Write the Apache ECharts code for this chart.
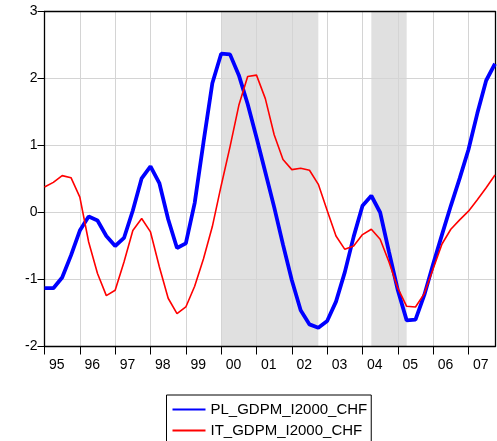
<!DOCTYPE html>
<html>
<head>
<meta charset="utf-8">
<script src="https://cdn.jsdelivr.net/npm/echarts@6/dist/echarts.min.js"></script>
<style>
  html, body { margin: 0; padding: 0; background: #ffffff; }
  #chart { width: 497px; height: 441px; }
</style>
</head>
<body>
<div id="chart"></div>
<script>
// Quarterly observations, 1995Q1 .. 2007Q4
const quarters = [
  '1995Q1','1995Q2','1995Q3','1995Q4','1996Q1','1996Q2','1996Q3','1996Q4',
  '1997Q1','1997Q2','1997Q3','1997Q4','1998Q1','1998Q2','1998Q3','1998Q4',
  '1999Q1','1999Q2','1999Q3','1999Q4','2000Q1','2000Q2','2000Q3','2000Q4',
  '2001Q1','2001Q2','2001Q3','2001Q4','2002Q1','2002Q2','2002Q3','2002Q4',
  '2003Q1','2003Q2','2003Q3','2003Q4','2004Q1','2004Q2','2004Q3','2004Q4',
  '2005Q1','2005Q2','2005Q3','2005Q4','2006Q1','2006Q2','2006Q3','2006Q4',
  '2007Q1','2007Q2','2007Q3','2007Q4'
];

const plValues = [
  -1.13, -1.13, -0.97, -0.64, -0.27, -0.06, -0.12, -0.35,
  -0.50, -0.38,  0.03,  0.51,  0.69,  0.44, -0.10, -0.53,
  -0.46,  0.14,  1.05,  1.93,  2.37,  2.36,  2.05,  1.62,
   1.12,  0.60,  0.08, -0.48, -1.01, -1.46, -1.67, -1.72,
  -1.62, -1.33, -0.89, -0.36,  0.10,  0.25,  0.00, -0.59,
  -1.16, -1.61, -1.60, -1.23, -0.77, -0.33,  0.10,  0.51,
   0.94,  1.48,  1.97,  2.22
];

const itValues = [
   0.38,  0.45,  0.55,  0.52,  0.23, -0.44, -0.91, -1.24,
  -1.16, -0.74, -0.27, -0.09, -0.29, -0.81, -1.28, -1.51,
  -1.41, -1.10, -0.69, -0.21,  0.40,  0.98,  1.60,  2.03,
   2.05,  1.70,  1.16,  0.79,  0.64,  0.66,  0.63,  0.42,
   0.03, -0.35, -0.55, -0.50, -0.33, -0.25, -0.40, -0.74,
  -1.13, -1.40, -1.41, -1.21, -0.84, -0.47, -0.25, -0.11,
   0.02,  0.19,  0.37,  0.56
];

const yearTicks  = [1995, 1996, 1997, 1998, 1999, 2000, 2001, 2002, 2003, 2004, 2005, 2006, 2007];
const yearLabels = ['95', '96', '97', '98', '99', '00', '01', '02', '03', '04', '05', '06', '07'];

// Shaded periods (start quarter, end quarter)
const shadedPeriods = [['2000Q1', '2002Q4'], ['2004Q2', '2005Q2']];

const seriesNames = ['PL_GDPM_I2000_CHF', 'IT_GDPM_I2000_CHF'];

// quarter string -> decimal year (Q1 sits on the year boundary)
const qToYear = q => Number(q.slice(0, 4)) + (Number(q.slice(5)) - 1) / 4;

const labelOffset = 0.35;
const xMin = qToYear(quarters[0]);
const xMax = qToYear(quarters[quarters.length - 1]);

const chart = echarts.init(document.getElementById('chart'), null, { renderer: 'canvas' });

const fontFamily = 'Liberation Sans, Arial, sans-serif';
const axisText = { color: '#000', fontFamily: fontFamily, fontSize: 14 };
const frameLine = { show: true, onZero: false, lineStyle: { color: '#000', width: 1.3 } };
const hidden = { show: false };

chart.setOption({
  animation: false,
  backgroundColor: '#ffffff',
  grid: { left: 44.5, right: 2, top: 11.5, bottom: 94.5 },
  xAxis: [
    {
      type: 'value',
      min: xMin, max: xMax, interval: 1,
      z: 1.5,
      axisLine: frameLine,
      axisTick: { show: true, length: 8, lineStyle: { color: '#000' }, customValues: yearTicks },
      axisLabel: Object.assign({
        margin: 12,
        customValues: yearTicks.map(y => y + labelOffset),
        formatter: v => {
          const i = yearTicks.indexOf(Math.round(v - labelOffset));
          return i >= 0 ? yearLabels[i] : '';
        }
      }, axisText),
      splitLine: { show: true, lineStyle: { color: '#d4d4d4', width: 1 } }
    },
    {
      // top frame edge
      type: 'value', position: 'top',
      min: xMin, max: xMax,
      z: 1.5,
      axisLine: frameLine, axisTick: hidden, axisLabel: hidden, splitLine: hidden
    }
  ],
  yAxis: [
    {
      type: 'value',
      min: -2, max: 3, interval: 1,
      z: 1.5,
      axisLine: frameLine,
      axisTick: { show: true, length: 7, lineStyle: { color: '#000' } },
      axisLabel: Object.assign({ margin: 7 }, axisText),
      splitLine: { show: true, lineStyle: { color: '#d4d4d4', width: 1 } }
    },
    {
      // right frame edge
      type: 'value', position: 'right',
      min: -2, max: 3,
      z: 1.5,
      axisLine: frameLine, axisTick: hidden, axisLabel: hidden, splitLine: hidden
    }
  ],
  legend: {
    orient: 'vertical',
    left: 166.5, top: 395,
    height: 80,
    padding: [7, 4, 12, 5],
    itemWidth: 33, itemHeight: 14, itemGap: 6,
    borderColor: '#000', borderWidth: 1,
    backgroundColor: '#fff',
    itemStyle: { opacity: 0 },
    textStyle: { color: '#000', fontFamily: fontFamily, fontSize: 15 },
    data: seriesNames
  },
  series: [
    {
      name: seriesNames[0],
      type: 'line',
      data: quarters.map((q, i) => [qToYear(q), plValues[i]]),
      symbol: 'none',
      z: 3,
      lineStyle: { color: '#0000ff', width: 3.8 },
      itemStyle: { color: '#0000ff' },
      markArea: {
        silent: true,
        z: 1,
        itemStyle: { color: '#e0e0e0' },
        data: shadedPeriods.map(p => [{ xAxis: qToYear(p[0]) }, { xAxis: qToYear(p[1]) }])
      }
    },
    {
      name: seriesNames[1],
      type: 'line',
      data: quarters.map((q, i) => [qToYear(q), itValues[i]]),
      symbol: 'none',
      z: 4,
      lineStyle: { color: '#ff0000', width: 1.6 },
      itemStyle: { color: '#ff0000' }
    }
  ]
});
</script>
</body>
</html>
